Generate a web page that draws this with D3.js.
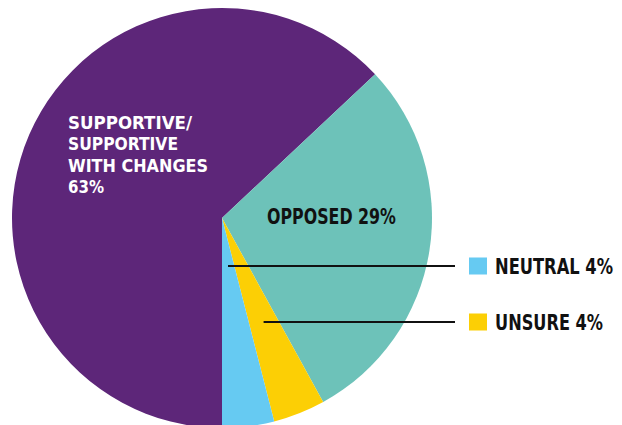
<!DOCTYPE html>
<html><head><meta charset="utf-8">
<script src="https://cdn.jsdelivr.net/npm/d3@7"></script>
<style>
html,body{margin:0;padding:0;background:#fff;overflow:hidden}
text{font-family:"Liberation Sans Narrow","DejaVu Sans Condensed","Roboto Condensed",sans-serif;font-weight:bold}
</style></head>
<body>
<svg id="c" width="622" height="425"></svg>
<script>
const categories = ["SUPPORTIVE/SUPPORTIVE WITH CHANGES", "OPPOSED", "UNSURE", "NEUTRAL"];
const values = [63, 29, 4, 4];
const colors = ["#5d2679", "#6dc2b9", "#fccf05", "#66caf2"];

const svg = d3.select("#c");
const cx = 222, cy = 218, R = 210;
const FS = 18, SY = 1.2;
const g = svg.append("g").attr("transform", `translate(${cx},${cy})`);

const pie = d3.pie().sort(null).value(d => d.v).startAngle(Math.PI).endAngle(3 * Math.PI);
const data = pie(categories.map((c, i) => ({c, v: values[i], col: colors[i]})));
const arc = d3.arc().innerRadius(0).outerRadius(R);

g.selectAll("path").data(data).enter().append("path")
  .attr("d", arc).attr("fill", d => d.data.col);

function ptAt(d, r) {
  const a = (d.startAngle + d.endAngle) / 2;
  return [r * Math.sin(a), -r * Math.cos(a)];
}

function label(x, y, str, w, fill, fs, sy) {
  svg.append("g").attr("transform", `translate(${x},${y}) scale(1,${sy || SY})`)
    .append("text").attr("x", 0).attr("y", 0).attr("font-size", fs || FS).attr("fill", fill)
    .attr("textLength", w).attr("lengthAdjust", "spacingAndGlyphs").text(str);
}

// Supportive label: tightly set multi-line block
const supLines = [["SUPPORTIVE/",124],["SUPPORTIVE",110],["WITH CHANGES",140],[`${values[0]}%`,36]];
supLines.forEach((l, i) => label(68, 129 + i * 21.3, l[0], l[1], "#fff", 17.5, 1.04));
label(267, 224, `${categories[1]} ${values[1]}%`, 129, "#111");

// Leader lines + legend
const legend = [
  {d: data[3], r: 48, y: 266, text: `${categories[3]} ${values[3]}%`, w: 118},
  {d: data[2], r: 113, y: 322, text: `${categories[2]} ${values[2]}%`, w: 108}
];
legend.forEach(L => {
  const p = ptAt(L.d, L.r);
  svg.append("line").attr("x1", cx + p[0]).attr("y1", L.y).attr("x2", 455).attr("y2", L.y)
    .attr("stroke", "#111").attr("stroke-width", 2.2);
  svg.append("rect").attr("x", 469).attr("y", L.y - 8.5).attr("width", 18).attr("height", 17)
    .attr("fill", L.d.data.col);
  label(495, L.y + 7.5, L.text, L.w, "#111");
});
</script>
</body></html>
